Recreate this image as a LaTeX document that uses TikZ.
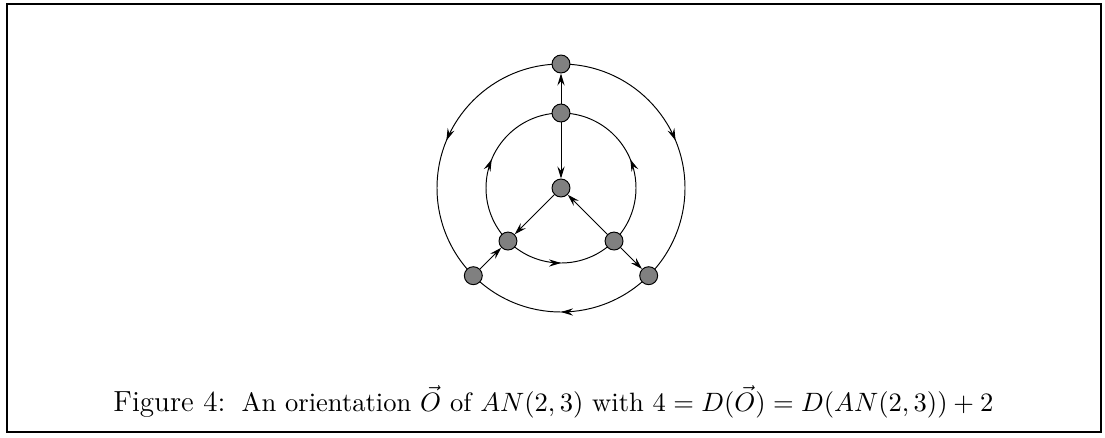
\documentclass[tikz,border=0pt]{standalone}
\usepackage{amsmath, amssymb}
\usepackage{tikz}
\usetikzlibrary{arrows.meta, decorations.markings, calc}
\tikzset{
    ->-/.style={decoration={markings, mark=at position #1 with {\arrow{Stealth[length=5pt, width=3pt, inset=1.8pt]}}},postaction={decorate}},
    ->-/.default=0.5,
    vtx/.style={circle, draw=black, fill=gray, inner sep=0pt, minimum size=7.4pt}
}

\begin{document}
\begin{tikzpicture}[x=0.0145cm, y=0.0145cm, line width=0.4pt, >={Stealth[length=5pt, width=3pt, inset=1.8pt]}]
    \useasboundingbox (0,0) rectangle (1105,437);
    % Cornice
    \draw[line width=1pt] (7,5) rectangle (1101,433);

    % Posizioni dei vertici
    \coordinate (c) at (561,249);
    \coordinate (po1) at ($(c)+(90:124)$);
    \coordinate (po2) at ($(c)+(225:124)$);
    \coordinate (po3) at ($(c)+(-45:124)$);
    \coordinate (pi1) at ($(c)+(90:75)$);
    \coordinate (pi2) at ($(c)+(225:75)$);
    \coordinate (pi3) at ($(c)+(-45:75)$);

    % Cerchio esterno
    \draw[->-] (po1) arc[start angle=90, end angle=225, radius=124];
    \draw[->-] (po1) arc[start angle=90, end angle=-45, radius=124];
    \draw[->-] (po3) arc[start angle=-45, end angle=-135, radius=124];

    % Cerchio interno
    \draw[->-] (pi2) arc[start angle=225, end angle=90, radius=75];
    \draw[->-] (pi3) arc[start angle=-45, end angle=90, radius=75];
    \draw[->-] (pi2) arc[start angle=225, end angle=315, radius=75];

    % Vertici
    \node[vtx] (o1) at (po1) {};
    \node[vtx] (o2) at (po2) {};
    \node[vtx] (o3) at (po3) {};
    \node[vtx] (i1) at (pi1) {};
    \node[vtx] (i2) at (pi2) {};
    \node[vtx] (i3) at (pi3) {};
    \node[vtx] (z) at (c) {};

    % Raggi orientati
    \draw[->] (i1) -- (z);
    \draw[->] (z) -- (i2);
    \draw[->] (i3) -- (z);
    \draw[->] (i1) -- (o1);
    \draw[->] (o2) -- (i2);
    \draw[->] (i3) -- (o3);

    % Didascalia
    \node[anchor=base west, inner sep=0pt] (cap) at (113,26)
        {{\large Figure 4:}\ \ {\fontsize{10.95}{13.6}\selectfont An orientation $\vec{O}$ of $AN(2,3)$ with $4=D(\vec{O})=D(AN(2,3))+2$}};
\end{tikzpicture}
\end{document}
